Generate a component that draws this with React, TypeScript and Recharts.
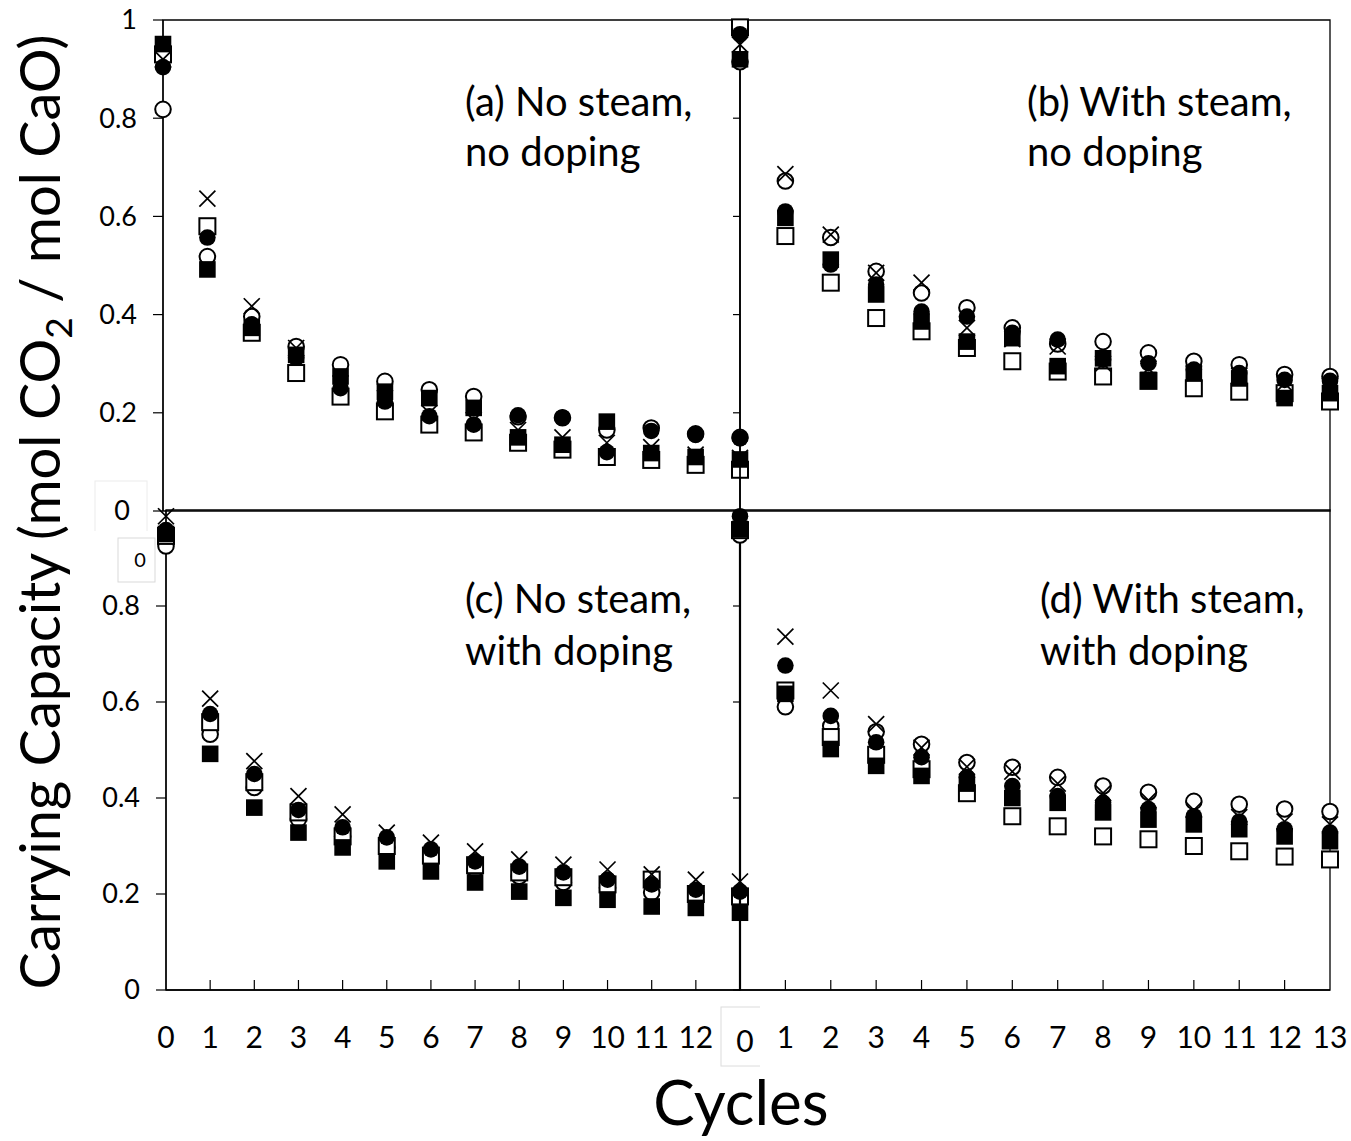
import { ScatterChart, Scatter, XAxis, YAxis, ReferenceArea } from 'recharts';

// Carrying capacity vs. cycle number, four conditions (a)-(d), five sorbents each
const cycles = [0, 1, 2, 3, 4, 5, 6, 7, 8, 9, 10, 11, 12, 13];
const topYTicks = [0, 0.2, 0.4, 0.6, 0.8, 1];
const bottomYTicks = [0, 0.2, 0.4, 0.6, 0.8];

// (a) No steam, no doping
const aCross = [0.92, 0.636, 0.417, 0.332, 0.26, 0.23, 0.2, 0.185, 0.165, 0.15, 0.139, 0.13, 0.115, 0.108];
const aOpenCircle = [0.818, 0.518, 0.396, 0.335, 0.298, 0.264, 0.247, 0.233, 0.192, 0.19, 0.165, 0.169, 0.157, 0.15];
const aFilledCircle = [0.904, 0.557, 0.38, 0.312, 0.25, 0.223, 0.193, 0.176, 0.195, 0.19, 0.12, 0.163, 0.155, 0.148];
const aOpenSquare = [0.93, 0.58, 0.363, 0.281, 0.233, 0.203, 0.176, 0.16, 0.139, 0.125, 0.11, 0.104, 0.094, 0.084];
const aFilledSquare = [0.951, 0.492, 0.373, 0.318, 0.274, 0.243, 0.23, 0.21, 0.15, 0.135, 0.182, 0.118, 0.11, 0.105];

// (b) With steam, no doping
const bCross = [0.95, 0.686, 0.563, 0.485, 0.465, 0.373, 0.35, 0.335, 0.3, 0.29, 0.28, 0.275, 0.26, 0.255];
const bOpenCircle = [0.915, 0.672, 0.557, 0.488, 0.444, 0.414, 0.373, 0.34, 0.345, 0.322, 0.305, 0.298, 0.278, 0.274];
const bFilledCircle = [0.971, 0.61, 0.502, 0.461, 0.406, 0.396, 0.363, 0.349, 0.308, 0.301, 0.288, 0.281, 0.267, 0.265];
const bOpenSquare = [0.985, 0.56, 0.465, 0.393, 0.366, 0.332, 0.305, 0.284, 0.274, 0.265, 0.25, 0.243, 0.24, 0.223];
const bFilledSquare = [0.92, 0.597, 0.512, 0.441, 0.386, 0.345, 0.352, 0.295, 0.311, 0.267, 0.28, 0.27, 0.23, 0.24];

// (c) No steam, with doping
const cCross = [0.987, 0.607, 0.477, 0.404, 0.366, 0.328, 0.307, 0.289, 0.272, 0.261, 0.251, 0.241, 0.23, 0.226];
const cOpenCircle = [0.925, 0.533, 0.422, 0.356, 0.32, 0.297, 0.272, 0.251, 0.237, 0.224, 0.213, 0.203, 0.2, 0.19];
const cFilledCircle = [0.958, 0.575, 0.45, 0.375, 0.339, 0.318, 0.293, 0.268, 0.257, 0.245, 0.23, 0.22, 0.209, 0.205];
const cOpenSquare = [0.946, 0.558, 0.433, 0.37, 0.32, 0.3, 0.28, 0.26, 0.245, 0.235, 0.22, 0.23, 0.2, 0.195];
const cFilledSquare = [0.95, 0.492, 0.38, 0.328, 0.297, 0.268, 0.247, 0.224, 0.205, 0.192, 0.188, 0.174, 0.171, 0.161];

// (d) With steam, with doping
const dCross = [0.96, 0.736, 0.624, 0.554, 0.505, 0.465, 0.455, 0.43, 0.41, 0.395, 0.375, 0.36, 0.351, 0.345];
const dOpenCircle = [0.948, 0.59, 0.55, 0.538, 0.512, 0.474, 0.464, 0.443, 0.425, 0.412, 0.393, 0.387, 0.377, 0.372];
const dFilledCircle = [0.987, 0.676, 0.571, 0.516, 0.485, 0.443, 0.425, 0.404, 0.39, 0.377, 0.362, 0.351, 0.335, 0.328];
const dOpenSquare = [0.958, 0.624, 0.527, 0.49, 0.46, 0.41, 0.362, 0.341, 0.32, 0.314, 0.3, 0.289, 0.278, 0.272];
const dFilledSquare = [0.96, 0.617, 0.502, 0.467, 0.446, 0.43, 0.4, 0.39, 0.37, 0.355, 0.345, 0.335, 0.32, 0.31];

const FONT = 'Lato, "Open Sans", sans-serif';
const INK = '#000';

const toPoints = (vals: number[]) => cycles.map((c, i) => ({ x: c, y: vals[i] }));

// marker shapes
const CrossMark = (p: any) => {
  const r = 8;
  return (
    <path
      d={`M${p.cx - r},${p.cy - r}L${p.cx + r},${p.cy + r}M${p.cx - r},${p.cy + r}L${p.cx + r},${p.cy - r}`}
      stroke={INK}
      strokeWidth={1.7}
      fill="none"
    />
  );
};
const OpenCircleMark = (p: any) => <circle cx={p.cx} cy={p.cy} r={7.8} fill="#fff" stroke={INK} strokeWidth={2} />;
const FilledCircleMark = (p: any) => <circle cx={p.cx} cy={p.cy} r={8.3} fill={INK} />;
const OpenSquareMark = (p: any) => (
  <rect x={p.cx - 8} y={p.cy - 8} width={16} height={16} fill="#fff" stroke={INK} strokeWidth={2} />
);
const FilledSquareMark = (p: any) => <rect x={p.cx - 8.3} y={p.cy - 8.3} width={16.6} height={16.6} fill={INK} />;

interface PanelProps {
  left: number;
  top: number;
  width: number;
  height: number;
  yAxisWidth: number;
  xAxisHeight: number;
  yTicks: number[];
  yMode: 'labels' | 'labelsBoxedZero' | 'none';
  xMode: 'none' | 'left' | 'right';
  yLineWidth?: number;
  cross: number[];
  openCircle: number[];
  filledCircle: number[];
  openSquare: number[];
  filledSquare: number[];
}

function Panel(props: PanelProps) {
  const { left, top, width, height, yAxisWidth, xAxisHeight, yTicks, yMode, xMode } = props;

  const renderXTick = (t: any) => {
    const v = t.payload.value;
    let label = null;
    if (xMode === 'left') {
      if (v === 13) {
        label = (
          <g>
            <rect x={t.x - 19} y={t.y + 17} width={51} height={59} fill="none" stroke="#dcdcdc" strokeWidth={1} />
            <text x={t.x + 5} y={t.y + 62} textAnchor="middle" fontSize={30} fontFamily={FONT} fill={INK}>0</text>
          </g>
        );
      } else {
        label = (
          <text x={t.x} y={t.y + 58} textAnchor="middle" fontSize={30} fontFamily={FONT} fill={INK}>{v}</text>
        );
      }
    } else if (xMode === 'right' && v !== 0) {
      label = (
        <text x={t.x} y={t.y + 58} textAnchor="middle" fontSize={30} fontFamily={FONT} fill={INK}>{v}</text>
      );
    }
    return (
      <g>
        {v !== 0 && v !== 13 && <line x1={t.x} y1={t.y} x2={t.x} y2={t.y - 10} stroke={INK} strokeWidth={1.2} />}
        {label}
      </g>
    );
  };

  const renderYTick = (t: any) => {
    const v = t.payload.value;
    if (yMode === 'none') return <g />;
    const label = v === 0 ? '0' : v === 1 ? '1' : v.toFixed(1);
    if (yMode === 'labelsBoxedZero' && v === 0) {
      return (
        <g>
          <rect x={95} y={t.y - 30} width={52} height={58} fill="none" stroke="#ececec" strokeWidth={1} />
          <text x={122} y={t.y} dy="0.35em" textAnchor="middle" fontSize={27} fontFamily={FONT} fill={INK}>0</text>
        </g>
      );
    }
    return (
      <text x={t.x} y={t.y} dy="0.35em" textAnchor="end" fontSize={27} fontFamily={FONT} fill={INK}>{label}</text>
    );
  };

  return (
    <div style={{ position: 'absolute', left, top }}>
      <ScatterChart
        width={width}
        height={height}
        margin={{ top: 20, right: width === 760 ? 20 : 21, bottom: xAxisHeight === 0 ? 20 : 0, left: 0 }}
      >
        <XAxis
          type="number"
          dataKey="x"
          domain={[0, 13]}
          ticks={cycles}
          interval={0}
          height={xAxisHeight}
          tickSize={0}
          tickMargin={0}
          tickLine={false}
          axisLine={{ stroke: INK, strokeWidth: 1.3 }}
          tick={renderXTick}
        />
        <YAxis
          type="number"
          dataKey="y"
          domain={[0, 1]}
          ticks={yTicks}
          interval={0}
          width={yAxisWidth}
          tickSize={yMode === 'none' ? 7 : 10}
          tickMargin={yMode === 'none' ? 0 : 16}
          tickLine={{ stroke: INK, strokeWidth: 1.2 }}
          axisLine={{ stroke: INK, strokeWidth: props.yLineWidth ?? 1.3 }}
          tick={renderYTick}
        />
        <ReferenceArea x1={0} x2={13} y1={0} y2={1} fill="none" stroke={INK} strokeWidth={1.3} ifOverflow="visible" />
        <Scatter name="○" data={toPoints(props.openCircle)} shape={OpenCircleMark} isAnimationActive={false} />
        <Scatter name="□" data={toPoints(props.openSquare)} shape={OpenSquareMark} isAnimationActive={false} />
        <Scatter name="×" data={toPoints(props.cross)} shape={CrossMark} isAnimationActive={false} />
        <Scatter name="■" data={toPoints(props.filledSquare)} shape={FilledSquareMark} isAnimationActive={false} />
        <Scatter name="●" data={toPoints(props.filledCircle)} shape={FilledCircleMark} isAnimationActive={false} />
      </ScatterChart>
    </div>
  );
}

const panelText = { fontSize: 40, fontFamily: FONT, fill: INK } as const;

export default function App() {
  return (
    <div style={{ position: 'absolute', left: 0, top: 0, width: 1351, height: 1141, background: '#fff', fontFamily: FONT }}>
      <Panel
        left={0} top={0} width={760} height={531} yAxisWidth={163} xAxisHeight={0}
        yTicks={topYTicks} yMode="labelsBoxedZero" xMode="none"
        cross={aCross} openCircle={aOpenCircle} filledCircle={aFilledCircle}
        openSquare={aOpenSquare} filledSquare={aFilledSquare}
      />
      <Panel
        left={720} top={0} width={631} height={531} yAxisWidth={20} xAxisHeight={0}
        yTicks={topYTicks} yMode="none" xMode="none"
        cross={bCross} openCircle={bOpenCircle} filledCircle={bFilledCircle}
        openSquare={bOpenSquare} filledSquare={bFilledSquare}
      />
      <Panel
        left={0} top={490} width={760} height={590} yAxisWidth={166} xAxisHeight={90}
        yTicks={bottomYTicks} yMode="labels" xMode="left"
        cross={cCross} openCircle={cOpenCircle} filledCircle={cFilledCircle}
        openSquare={cOpenSquare} filledSquare={cFilledSquare}
      />
      <Panel
        left={720} top={490} width={631} height={590} yAxisWidth={20} xAxisHeight={90}
        yTicks={bottomYTicks} yMode="none" xMode="right" yLineWidth={2.2}
        cross={dCross} openCircle={dOpenCircle} filledCircle={dFilledCircle}
        openSquare={dOpenSquare} filledSquare={dFilledSquare}
      />

      <svg width={1351} height={1141} style={{ position: 'absolute', left: 0, top: 0, pointerEvents: 'none' }}>
        <text transform="translate(60,512) rotate(-90)" textAnchor="middle" fontSize={56} fontFamily={FONT} fill={INK}>
          Carrying Capacity (mol CO<tspan fontSize={37} dy={12}>2</tspan>
          <tspan dy={-12}> / mol CaO)</tspan>
        </text>
        <text x={741} y={1125} textAnchor="middle" fontSize={62} fontFamily={FONT} fill={INK}>Cycles</text>

        <rect x={118} y={538} width={37} height={44} fill="none" stroke="#d9d9d9" strokeWidth={1} />
        <text x={140} y={567} textAnchor="middle" fontSize={20} fontFamily={FONT} fill={INK}>0</text>

        <text x={465} y={116} {...panelText}>(a) No steam,</text>
        <text x={465} y={166} {...panelText}>no doping</text>
        <text x={1027} y={116} {...panelText}>(b) With steam,</text>
        <text x={1027} y={166} {...panelText}>no doping</text>
        <text x={465} y={613} {...panelText}>(c) No steam,</text>
        <text x={465} y={665} {...panelText}>with doping</text>
        <text x={1040} y={613} {...panelText}>(d) With steam,</text>
        <text x={1040} y={665} {...panelText}>with doping</text>
      </svg>
    </div>
  );
}
